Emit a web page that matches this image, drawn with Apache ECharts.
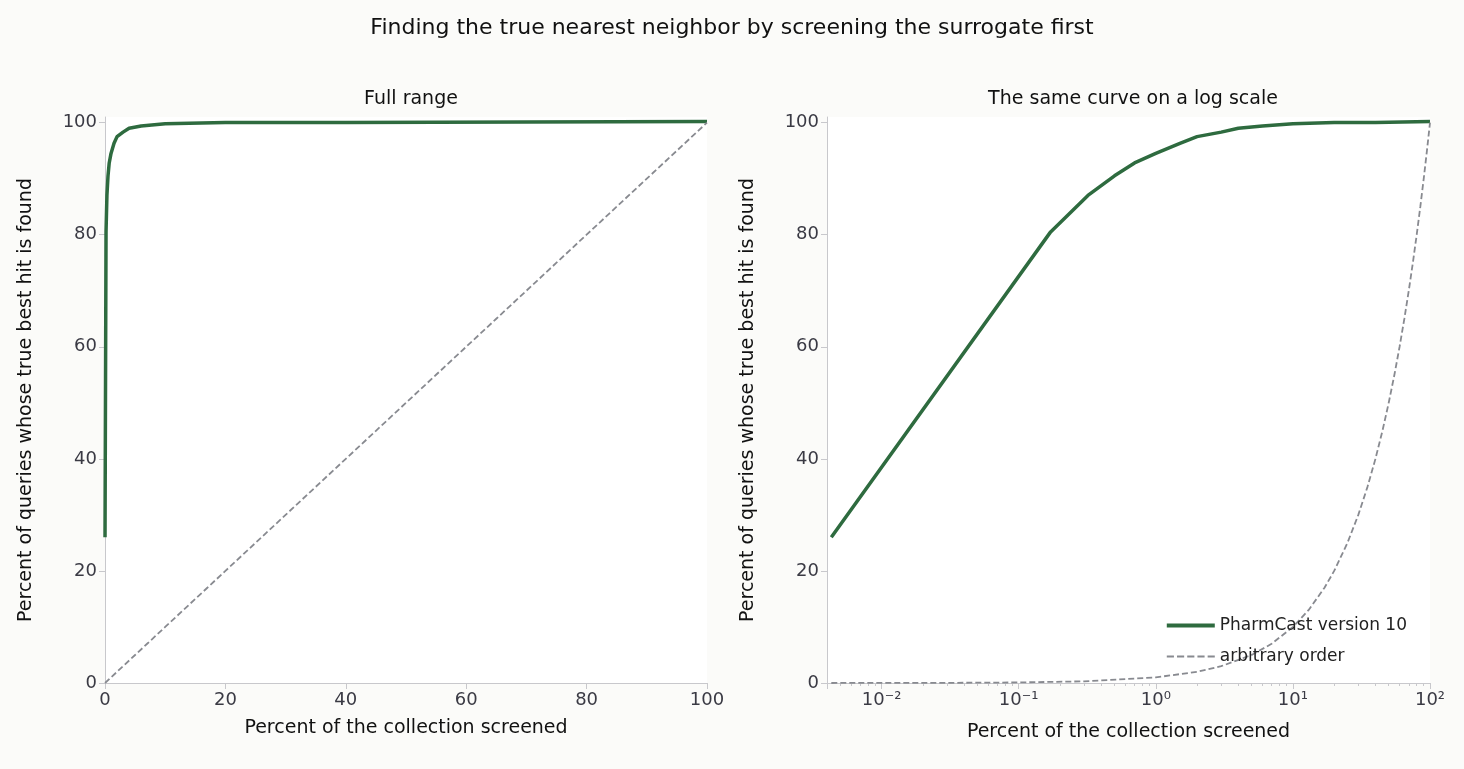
<!DOCTYPE html>
<html><head><meta charset="utf-8">
<script src="https://cdn.jsdelivr.net/npm/echarts@6/dist/echarts.min.js"></script>
<style>html,body{margin:0;background:#fbfbf9}#c{width:1464px;height:769px}</style>
</head><body><div id="c"></div>
<script>
const surrogateX = [0.0043, 0.171, 0.32, 0.5, 0.7, 1, 1.5, 2, 3, 4, 6, 10, 20, 40, 100];
const surrogateY = [26, 80.5, 87, 90.5, 92.8, 94.5, 96.3, 97.5, 98.3, 99, 99.4, 99.8, 100, 100, 100.2];
const arbitraryX = [0.0043, 0.01, 0.03, 0.1, 0.3, 1, 2, 3, 5, 7, 10, 13, 17, 20, 25, 30, 35, 40, 45, 50, 55, 60, 65, 70, 75, 80, 85, 90, 95, 100];
const arbitraryY = [0.0043, 0.01, 0.03, 0.1, 0.3, 1, 2, 3, 5, 7, 10, 13, 17, 20, 25, 30, 35, 40, 45, 50, 55, 60, 65, 70, 75, 80, 85, 90, 95, 100];

const green = '#2e6b3f', gray = '#888a90';
const pts = (xs, ys) => xs.map((x, i) => [x, ys[i]]);
const sup = {'-':'⁻','0':'⁰','1':'¹','2':'²'};
const font = 'DejaVu Sans';
const axisCommon = {
  axisLine:{show:true,lineStyle:{color:'#c8c8cc'}},
  axisTick:{show:true,lineStyle:{color:'#c8c8cc'},length:6},
  axisLabel:{color:'#3a3a44',fontSize:18,fontFamily:font},
  splitLine:{show:false},
  nameLocation:'middle',
  nameTextStyle:{color:'#111',fontSize:19,fontFamily:font}
};
const chart = echarts.init(document.getElementById('c'));
chart.setOption({
  backgroundColor:'#fbfbf9',
  animation:false,
  title:[
    {text:'Finding the true nearest neighbor by screening the surrogate first',left:'center',top:12,textStyle:{fontSize:22,fontWeight:'normal',color:'#111',fontFamily:font}},
    {text:'Full range',left:406,textAlign:'center',top:85,textStyle:{fontSize:19,fontWeight:'normal',color:'#111',fontFamily:font}},
    {text:'The same curve on a log scale',left:1128,textAlign:'center',top:85,textStyle:{fontSize:19,fontWeight:'normal',color:'#111',fontFamily:font}}
  ],
  grid:[
    {left:105,right:757,top:117,bottom:86,show:true,backgroundColor:'#fff',borderWidth:0},
    {left:827,right:34,top:117,bottom:86,show:true,backgroundColor:'#fff',borderWidth:0}
  ],
  xAxis:[
    Object.assign({},axisCommon,{gridIndex:0,type:'value',min:0,max:100,interval:20,name:'Percent of the collection screened',nameGap:36}),
    Object.assign({},axisCommon,{gridIndex:1,type:'log',logBase:10,min:0.004,max:100,name:'Percent of the collection screened',nameGap:40,
      axisLabel:Object.assign({},axisCommon.axisLabel,{formatter:v=>{const l=Math.log10(v);if(Math.abs(l-Math.round(l))>1e-6)return '';return '10'+String(Math.round(l)).split('').map(c=>sup[c]).join('');}}),
      minorTick:{show:true,splitNumber:9,length:3,lineStyle:{color:'#c8c8cc'}}})
  ],
  yAxis:[
    Object.assign({},axisCommon,{gridIndex:0,type:'value',min:0,max:101,interval:20,name:'Percent of queries whose true best hit is found',nameGap:69}),
    Object.assign({},axisCommon,{gridIndex:1,type:'value',min:0,max:101,interval:20,name:'Percent of queries whose true best hit is found',nameGap:69})
  ],
  legend:{right:52,top:612,orient:'vertical',itemGap:14,itemWidth:48,itemHeight:4,textStyle:{fontSize:17,color:'#222',fontFamily:font},
    data:[
      {name:'PharmCast version 10',icon:'rect',itemStyle:{color:green}},
      {name:'arbitrary order',icon:'path://M0,0h7v2h-7z M10,0h7v2h-7z M20,0h7v2h-7z M30,0h7v2h-7z M40,0h7v2h-7z',itemHeight:2,itemStyle:{color:gray}}
    ]},
  series:[
    {type:'line',xAxisIndex:0,yAxisIndex:0,name:'s0',data:pts(surrogateX,surrogateY),symbol:'none',lineStyle:{color:green,width:3.5},itemStyle:{color:green}},
    {type:'line',xAxisIndex:0,yAxisIndex:0,name:'a0',data:pts(arbitraryX,arbitraryY),symbol:'none',lineStyle:{color:gray,width:1.8,type:[6,3]},itemStyle:{color:gray}},
    {type:'line',xAxisIndex:1,yAxisIndex:1,name:'PharmCast version 10',data:pts(surrogateX,surrogateY),symbol:'none',lineStyle:{color:green,width:3.5},itemStyle:{color:green}},
    {type:'line',xAxisIndex:1,yAxisIndex:1,name:'arbitrary order',data:pts(arbitraryX,arbitraryY),symbol:'none',lineStyle:{color:gray,width:1.8,type:[6,3]},itemStyle:{color:gray}}
  ]
});
</script></body></html>
